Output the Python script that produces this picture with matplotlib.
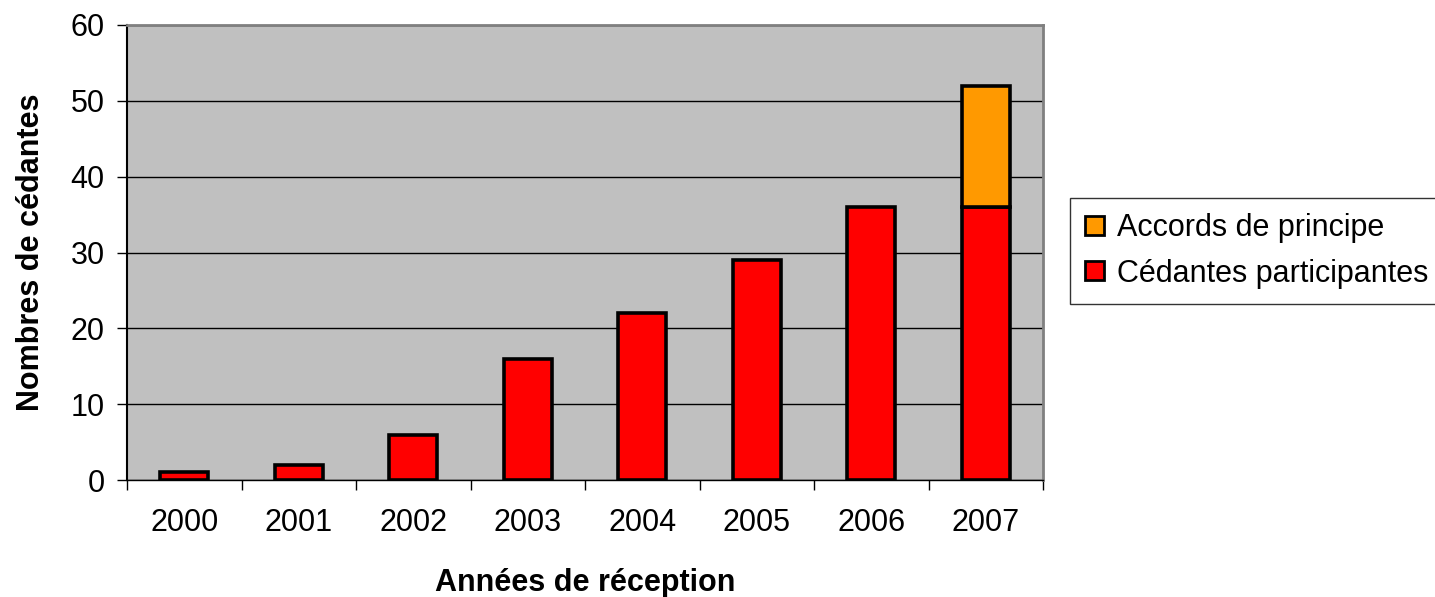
import matplotlib
matplotlib.use("Agg")
import matplotlib.pyplot as plt
import numpy as np

years = ["2000", "2001", "2002", "2003", "2004", "2005", "2006", "2007"]
cedantes = [1, 2, 6, 16, 22, 29, 36, 36]
accords = [0, 0, 0, 0, 0, 0, 0, 16]

plt.rcParams['font.family'] = ['Liberation Sans', 'DejaVu Sans']

fig = plt.figure(figsize=(14.35, 5.97), dpi=100)
ax = fig.add_axes([127/1435, 1-480/597, (1043-127)/1435, (480-25)/597])
ax.set_facecolor('#c0c0c0')

x = np.arange(len(years))
w = 0.42
b1 = ax.bar(x, cedantes, width=w, color='#ff0000', edgecolor='black', linewidth=2.6, zorder=3,
            label='Cédantes participantes')
acc_x = [xi for xi, a in zip(x, accords) if a > 0]
acc_v = [a for a in accords if a > 0]
acc_b = [c for c, a in zip(cedantes, accords) if a > 0]
b2 = ax.bar(acc_x, acc_v, bottom=acc_b, width=w, color='#ff9900', edgecolor='black', linewidth=2.6,
            zorder=3, label='Accords de principe')

ax.set_xlim(-0.5, len(years) - 0.5)
ax.set_ylim(0, 60)
ax.set_yticks(np.arange(0, 61, 10))
ax.tick_params(axis='y', labelsize=22, length=7, width=1, direction='out', pad=9)
ax.set_xticks(x)
ax.set_xticklabels(years)
ax.tick_params(axis='x', which='major', length=0, labelsize=22, pad=20)
ax.set_xticks(np.arange(-0.5, len(years), 1), minor=True)
ax.tick_params(axis='x', which='minor', length=7, width=1, direction='out')

ax.yaxis.grid(True, color='black', linewidth=1)
ax.set_axisbelow(True)
for s in ['top', 'right']:
    ax.spines[s].set_color('#808080')
    ax.spines[s].set_linewidth(2)
ax.spines['left'].set_color('black')
ax.spines['left'].set_linewidth(1.5)
ax.spines['bottom'].set_color('black')
ax.spines['bottom'].set_linewidth(1)

ax.set_ylabel('Nombres de cédantes', fontsize=22, fontweight='bold', labelpad=18)
ax.set_xlabel('Années de réception', fontsize=22, fontweight='bold', labelpad=22)

leg = fig.legend(handles=[b2, b1], labels=['Accords de principe', 'Cédantes participantes'],
                 loc='upper left', bbox_to_anchor=(1070/1435, 1-198/597), fontsize=22,
                 frameon=True, fancybox=False, handlelength=0.6, handleheight=0.6,
                 handletextpad=0.45, borderpad=0.5, labelspacing=0.5, borderaxespad=0)
leg.get_frame().set_edgecolor('black')
leg.get_frame().set_linewidth(1)
for p in leg.get_patches():
    p.set_linewidth(2)

fig.savefig('out.png', dpi=100)
